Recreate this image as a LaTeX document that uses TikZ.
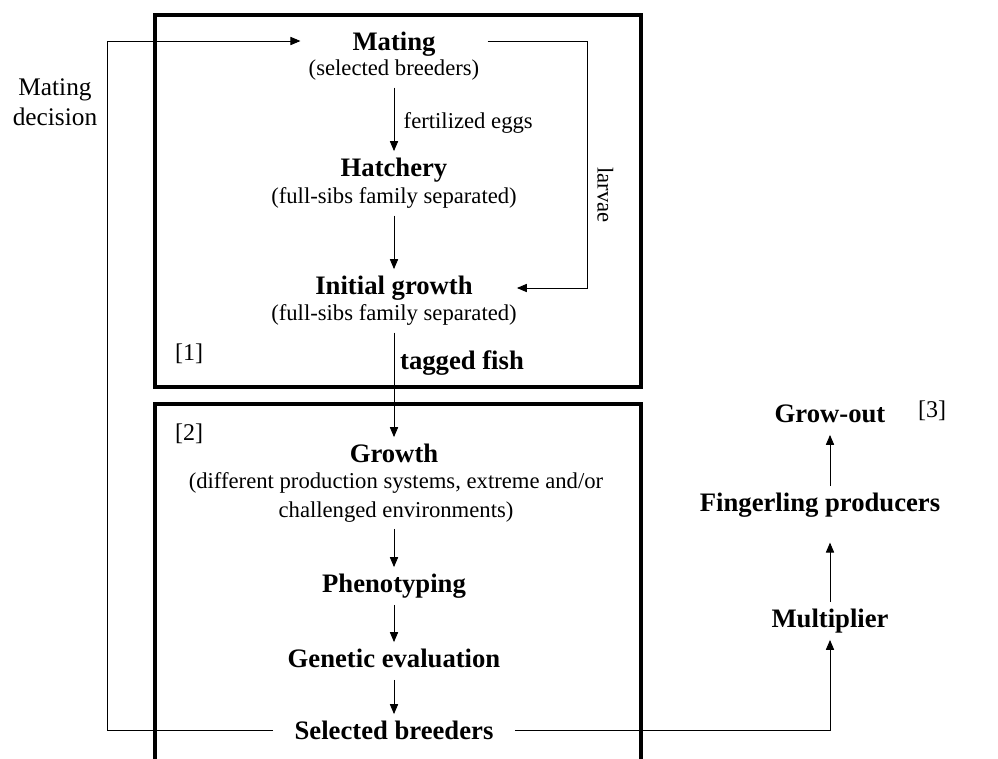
\documentclass[tikz,border=0pt]{standalone}
\usepackage{fontspec}
\setmainfont{Liberation Serif}
\usetikzlibrary{arrows}

\tikzset{
  title/.style={font=\fontsize{20}{24}\selectfont\bfseries, text height=14pt, text depth=4pt, inner ysep=5pt},
  sub/.style={font=\fontsize{17}{21.75}\selectfont, text height=12pt, text depth=4pt, inner ysep=5pt, align=center},
  subwrap/.style={font=\fontsize{17}{21.75}\selectfont, inner ysep=5pt, align=center},
  frame/.style={line width=3pt},
  link/.style={line width=0.7pt},
}

\begin{document}
\begin{tikzpicture}[line cap=butt,line join=miter,>=triangle 45,x=0.75pt,y=-0.75pt]
\useasboundingbox (0,0) rectangle (998,758);
% boxes
\draw[frame] (155,15) rectangle (641,387);
\draw[frame] (155,762) -- (155,404) -- (641,404) -- (641,762);
% stage [1]
\node[title,minimum width=140pt] (mating) at (394,44) {Mating};
\node[sub] (matingsub) at (394,70) {(selected breeders)};
\node[title] (hatch) at (394,170) {Hatchery};
\node[sub] (hatchsub) at (394,198) {(full-sibs family separated)};
\node[title,minimum width=184pt] (initial) at (394,288) {Initial growth};
\node[sub] (initialsub) at (394,315) {(full-sibs family separated)};
\node[sub,anchor=west] (eggs) at (399,123) {fertilized eggs};
\node[sub,rotate=-90] (larvae) at (603,195) {larvae};
\node[title] (tagged) at (462,363) {tagged fish};
\node[sub,font=\fontsize{18}{22}\selectfont] (one) at (189,355) {[1]};
% stage [2]
\node[sub,font=\fontsize{18}{22}\selectfont] (two) at (189,435) {[2]};
\node[title] (growth) at (394,456) {Growth};
\node[subwrap] (growthsub) at (396,497) {(different production systems, extreme and/or\\challenged environments)};
\node[title] (pheno) at (394,586) {Phenotyping};
\node[title] (genetic) at (394,661) {Genetic evaluation};
\node[title,inner xsep=16pt] (selected) at (394,733) {Selected breeders};
% stage [3]
\node[title] (growout) at (830,416) {Grow-out};
\node[title] (fingerling) at (820,505) {Fingerling producers};
\node[title] (multiplier) at (830,621) {Multiplier};
\node[sub,font=\fontsize{18}{22}\selectfont] (three) at (932,412) {[3]};
\node[subwrap,font=\fontsize{19}{22.5}\selectfont] (decision) at (55,102) {Mating\\decision};
% corners
\coordinate (loop) at (107,41);
\coordinate (larvturn) at (587,41);
% arrows
\draw[link,->] (matingsub) -- (hatch);
\draw[link,->] (hatchsub) -- (initial);
\draw[link,->] (initialsub) -- (growth);
\draw[link,->] (growthsub.south -| pheno) -- (pheno);
\draw[link,->] (pheno) -- (genetic);
\draw[link,->] (genetic) -- (selected);
\draw[link,->] (mating.east |- larvturn) -- (larvturn) |- (initial.east);
\draw[link,->] (selected.west |- 0,730) -| (loop) -- (mating.west |- loop);
\draw[link,->] (selected.east |- 0,730) -| (multiplier.south);
\draw[link,->,shorten >=14pt] (multiplier.north) -- (multiplier.north |- fingerling.south);
\draw[link,->] (multiplier.north |- fingerling.north) -- (growout.south);
\end{tikzpicture}
\end{document}
